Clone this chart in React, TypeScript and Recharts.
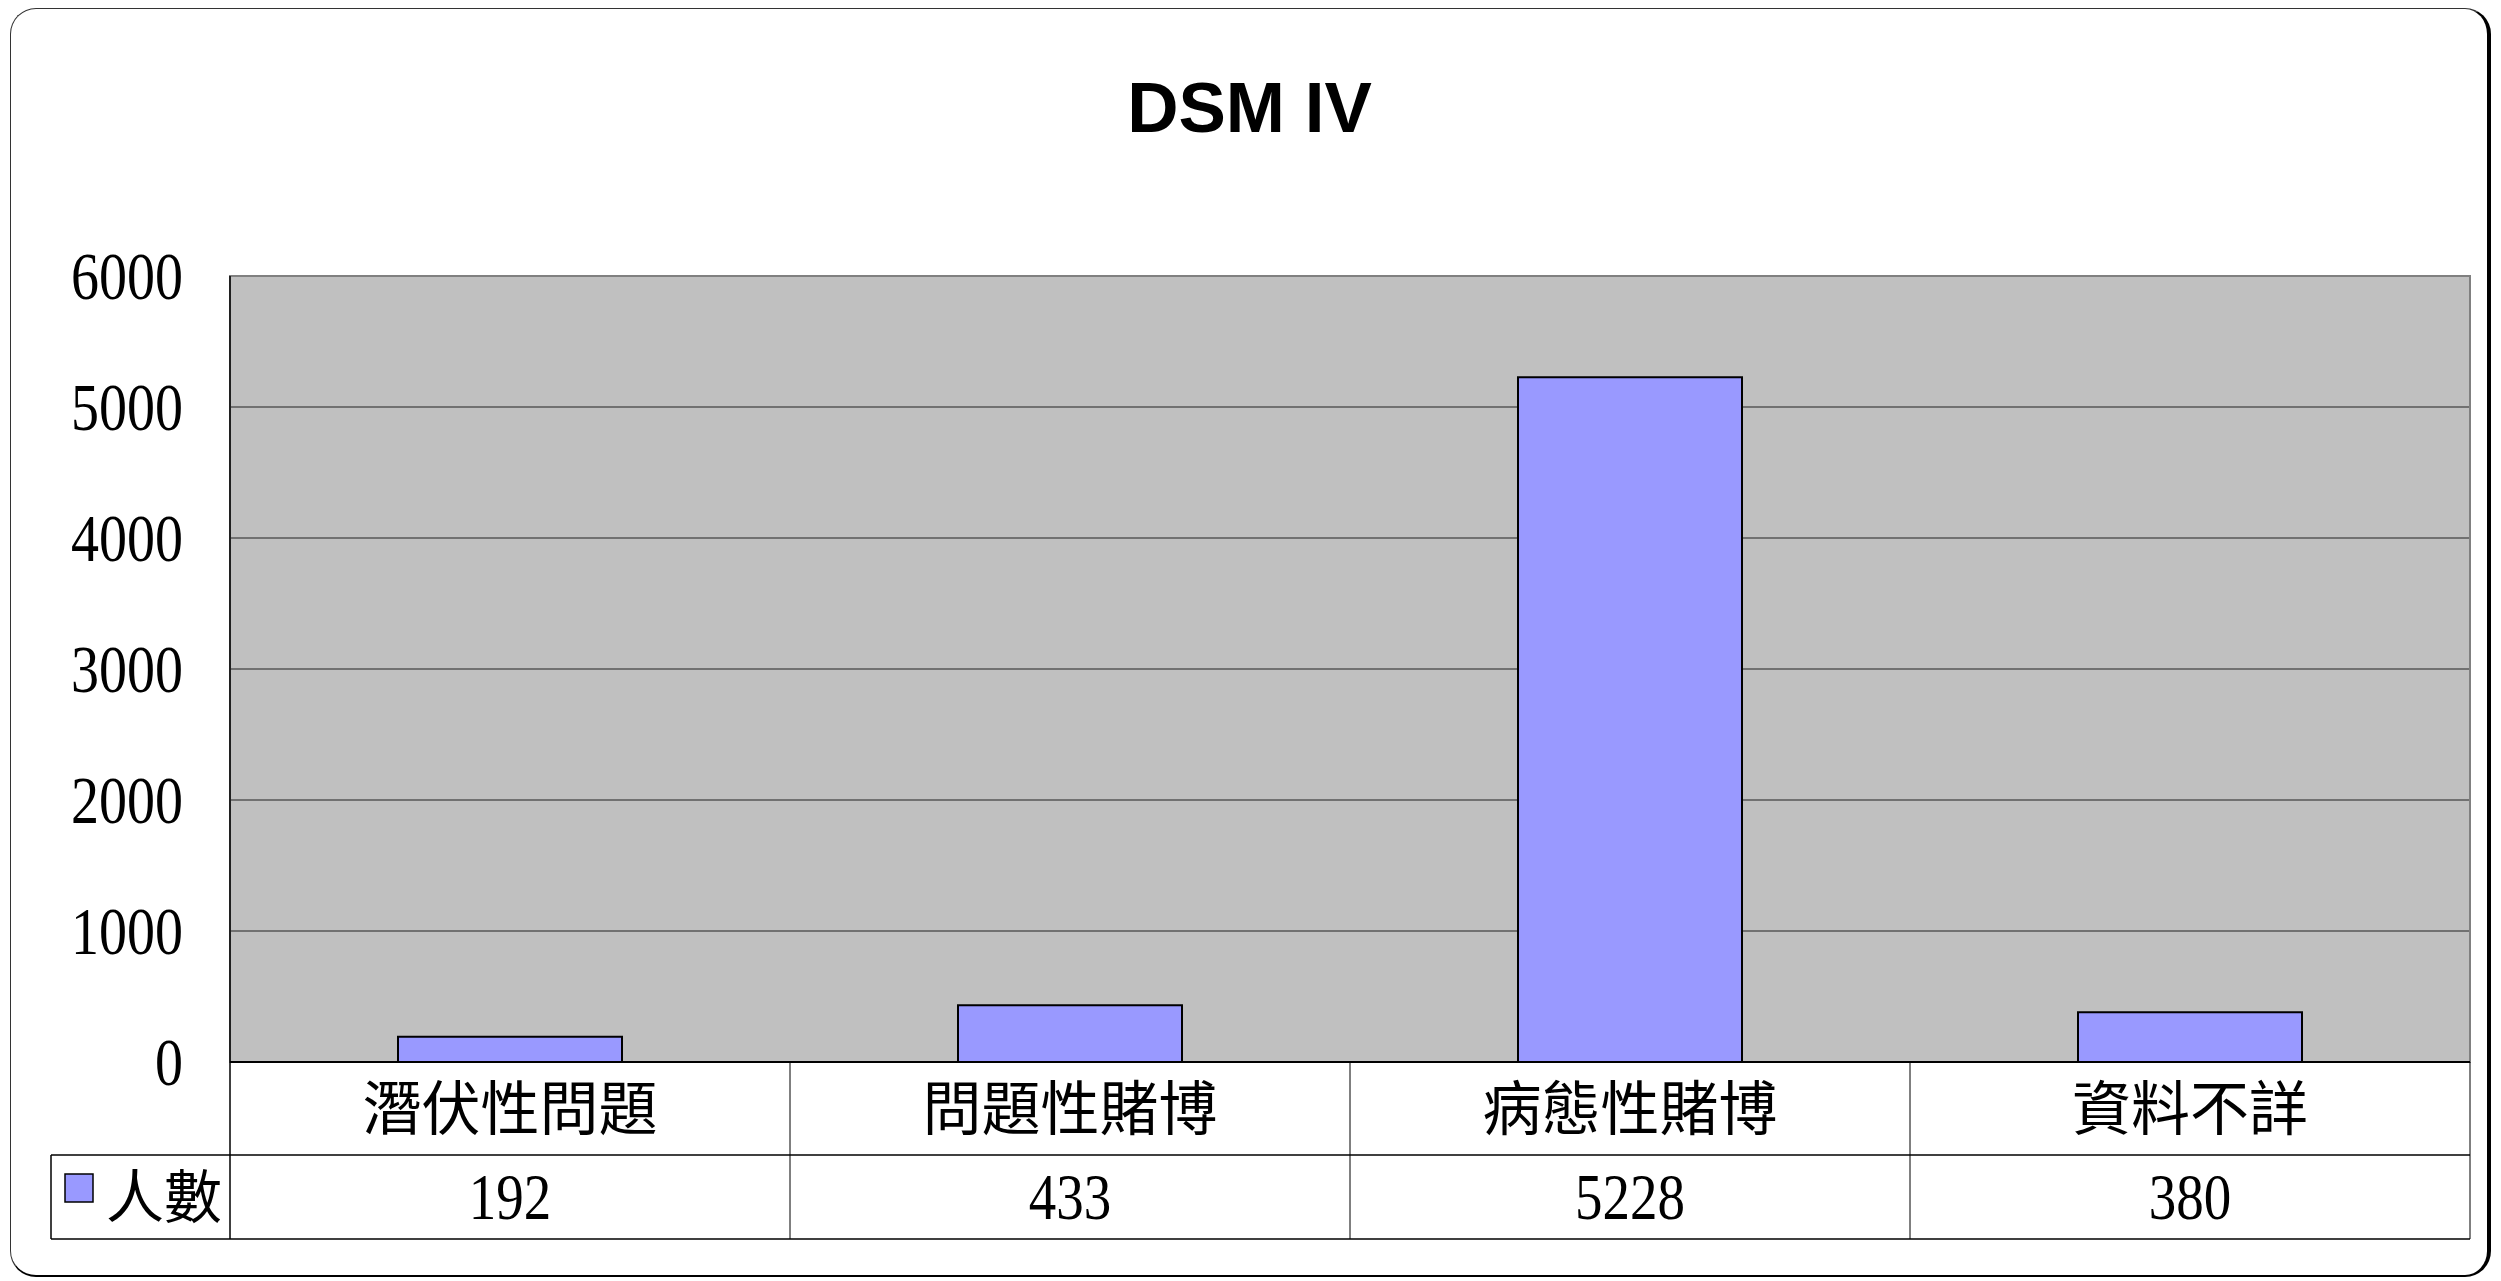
import React from "react";
import { BarChart, Bar, XAxis, YAxis, CartesianGrid, ReferenceArea } from "recharts";

const TITLE = "DSM IV";
const SERIES_NAME = "人數";
const CATEGORIES = ["潛伏性問題", "問題性賭博", "病態性賭博", "資料不詳"];
const COUNTS = [192, 433, 5228, 380];
const Y_TICKS = [0, 1000, 2000, 3000, 4000, 5000, 6000];

const CHART_W = 2501;
const CHART_H = 1281;
const YAXIS_W = 230;
const MARGIN = { top: 276, right: 31, bottom: 39, left: 0 };
const XAXIS_H = 180;
const PLOT_W = CHART_W - YAXIS_W - MARGIN.right - MARGIN.left;
const BAND = PLOT_W / CATEGORIES.length;
const ROW1_H = 93;
const ROW2_H = 84;
const LEGEND_LEFT = 51;

const BAR_FILL = "#9999FF";
const SERIF = "'Liberation Serif', 'Times New Roman', serif";
const CJK = "'Noto Sans CJK TC', 'Noto Sans CJK SC', sans-serif";

const data = CATEGORIES.map((category, i) => ({ category, count: COUNTS[i] }));

function YTick({ x, y, payload }: any) {
  return (
    <g transform={`translate(${x},${y}) scale(1,1.2)`}>
      <text textAnchor="end" dy="0.34em" fontFamily={SERIF} fontSize={56} fill="#000">
        {payload.value}
      </text>
    </g>
  );
}

// category label + value row, drawn as a data table under the plot
function TableTick({ x, y, payload, index }: any) {
  const half = BAND / 2;
  const left = x - half;
  const right = x + half;
  const y1 = y + ROW1_H;
  const y2 = y1 + ROW2_H;
  const line = { stroke: "#000", strokeWidth: 1.5 };
  return (
    <g>
      {index === 0 && (
        <g>
          <line x1={left} y1={y} x2={left} y2={y2} {...line} />
          <line x1={LEGEND_LEFT} y1={y1} x2={left} y2={y1} {...line} />
          <line x1={LEGEND_LEFT} y1={y2} x2={left} y2={y2} {...line} />
          <line x1={LEGEND_LEFT} y1={y1} x2={LEGEND_LEFT} y2={y2} {...line} />
          <rect x={LEGEND_LEFT + 14} y={y1 + 19} width={28} height={28} fill={BAR_FILL} stroke="#000" strokeWidth={1.5} />
          <text x={LEGEND_LEFT + 55} y={y1 + ROW2_H / 2} dy="0.36em" fontFamily={CJK} fontSize={58} fill="#000">
            {SERIES_NAME}
          </text>
        </g>
      )}
      <line x1={right} y1={y} x2={right} y2={y2} stroke="#000" strokeWidth={1} />
      <line x1={left} y1={y1} x2={right} y2={y1} {...line} />
      <line x1={left} y1={y2} x2={right} y2={y2} {...line} />
      <text x={x} y={y + ROW1_H / 2} dy="0.36em" textAnchor="middle" fontFamily={CJK} fontSize={59} fill="#000">
        {payload.value}
      </text>
      <g transform={`translate(${x},${y1 + ROW2_H / 2}) scale(1,1.2)`}>
        <text textAnchor="middle" dy="0.34em" fontFamily={SERIF} fontSize={55} fill="#000">
          {COUNTS[index]}
        </text>
      </g>
    </g>
  );
}

export default function App() {
  return (
    <div style={{ position: "absolute", left: 0, top: 0, width: CHART_W, height: CHART_H, background: "#fff" }}>
      <div
        style={{
          position: "absolute",
          left: 10,
          top: 8,
          width: 2476,
          height: 1266,
          borderTop: "1px solid #333",
          borderLeft: "1px solid #333",
          borderRight: "4px solid #000",
          borderBottom: "2px solid #000",
          borderRadius: 26,
        }}
      />
      <div
        style={{
          position: "absolute",
          left: 0,
          width: CHART_W - 2,
          top: 72,
          textAlign: "center",
          fontFamily: "'Liberation Sans', Arial, sans-serif",
          fontWeight: "bold",
          fontSize: 71,
          lineHeight: "71px",
        }}
      >
        {TITLE}
      </div>
      <div style={{ position: "absolute", left: 0, top: 0 }}>
        <BarChart width={CHART_W} height={CHART_H} data={data} margin={MARGIN} barCategoryGap="30%">
          <CartesianGrid vertical={false} stroke="#222" strokeWidth={1.2} fill="#C0C0C0" fillOpacity={1} />
          <XAxis
            dataKey="category"
            height={XAXIS_H}
            interval={0}
            tickLine={false}
            tickSize={0}
            tickMargin={0}
            axisLine={{ stroke: "#000", strokeWidth: 2 }}
            tick={(p: any) => <TableTick {...p} />}
          />
          <YAxis
            width={YAXIS_W}
            domain={[0, 6000]}
            ticks={Y_TICKS}
            interval={0}
            tickLine={false}
            tickSize={0}
            tickMargin={47}
            axisLine={{ stroke: "#000", strokeWidth: 1.5 }}
            tick={(p: any) => <YTick {...p} />}
          />
          <ReferenceArea y1={0} y2={6000} fill="none" stroke="#808080" strokeWidth={2} ifOverflow="extendDomain" />
          <Bar dataKey="count" fill={BAR_FILL} stroke="#000" strokeWidth={2} isAnimationActive={false} />
        </BarChart>
      </div>
    </div>
  );
}
